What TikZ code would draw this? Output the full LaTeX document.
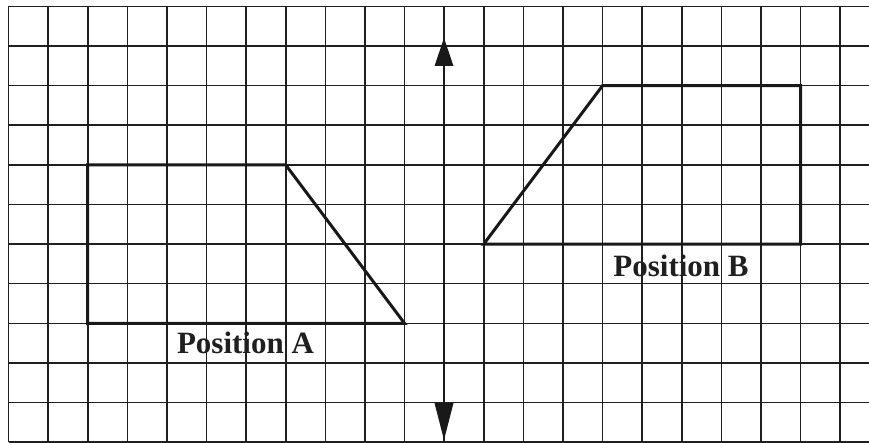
\documentclass[tikz,border=0pt]{standalone}
\usepackage{fontspec}
\setmainfont{Liberation Serif}
\begin{document}
\begin{tikzpicture}[x=1pt,y=-1pt,
  gridline/.style={line width=1.6pt,draw=black!88},
  shapeline/.style={line width=3pt,draw=black!90,line join=miter},
  lbl/.style={font=\bfseries\fontsize{31}{31}\selectfont,text=black!88,inner sep=0pt,anchor=base}]
\useasboundingbox (0,0) rectangle (869,443);
\fill[white] (0,0) rectangle (869,443);
% grid
\foreach \i in {0,...,21} {
  \draw[gridline] (8.5+39.6*\i,6.5) -- (8.5+39.6*\i,442);
}
\foreach \j in {0,...,11} {
  \draw[gridline] (8.5,6.5+39.6*\j) -- (869,6.5+39.6*\j);
}
% axis arrow
\coordinate (top) at (444,38);
\coordinate (bot) at (444,440);
\coordinate (tb) at (444,66);
\coordinate (bb) at (444,403);
\draw[line width=2.6pt,black!90] (tb) -- (bb);
\fill[black!90] (top) -- ([xshift=-9.5]tb) -- ([xshift=9.5]tb) -- cycle;
\fill[black!90] (bot) -- ([xshift=-9.5]bb) -- ([xshift=9.5]bb) -- cycle;
% Position A
\coordinate (a1) at (87.7,164.9);
\coordinate (a2) at (285.7,164.9);
\coordinate (a3) at (404.5,323.3);
\coordinate (a4) at (87.7,323.3);
\draw[shapeline] (a1) -- (a2) -- (a3) -- (a4) -- cycle;
% Position B
\coordinate (b1) at (483.7,244.1);
\coordinate (b2) at (602.5,85.7);
\coordinate (b3) at (800.5,85.7);
\coordinate (b4) at (800.5,244.1);
\draw[shapeline] (b1) -- (b2) -- (b3) -- (b4) -- cycle;
% labels
\node[lbl] (la) at (245.5,353) {Position A};
\node[lbl] (lb) at (681,277) {Position B};
\end{tikzpicture}
\end{document}
